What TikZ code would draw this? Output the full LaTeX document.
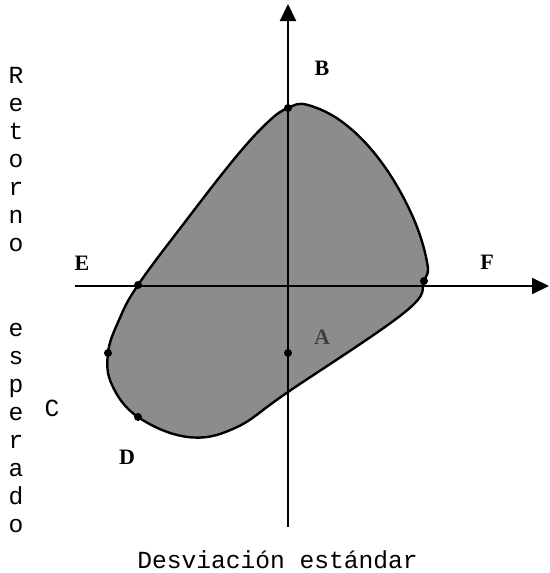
\documentclass[tikz,border=0pt]{standalone}
\usepackage{fontspec}
\setmainfont{Liberation Serif}
\setmonofont{Liberation Mono}
\usetikzlibrary{arrows.meta}

\begin{document}
\begin{tikzpicture}[x=0.5pt, y=-0.5pt,
  axisline/.style={line width=1pt, -{Triangle[length=8.5pt, width=8pt]}},
  dotpt/.style={circle, fill=black, inner sep=0pt, minimum size=4pt},
  lbl/.style={font=\fontsize{11}{13}\selectfont\bfseries},
  mono/.style={font=\ttfamily\fontsize{12.3}{14}\selectfont, anchor=base}]
\useasboundingbox (0,0) rectangle (550,573);

% feasible region
\filldraw[fill=black!45, line width=1.2pt] plot[smooth cycle, tension=0.65] coordinates {
  (288,108) (308,105) (345,124) (382,163) (412,215) (427,262)
  (424,281) (405,312) (288,392) (235,428) (188,437)
  (138,417) (112,385) (108,353) (119,320) (138,285) (185,222)
  (235,158) (268,122)};

% axes
\coordinate (xl) at (75,286);
\coordinate (xr) at (549,286);
\coordinate (yb) at (288,527);
\coordinate (yt) at (288,4);
\draw[axisline] (xl) -- (xr);
\draw[axisline] (yb) -- (yt);

% points on the boundary
\node[dotpt] (pb) at (288,108) {};
\node[dotpt] (pe) at (138,285) {};
\node[dotpt] (pf) at (424,281) {};
\node[dotpt] (pc) at (108,353) {};
\node[dotpt] (pd) at (138,417) {};
\node[dotpt] (pa) at (288,353) {};

% labels
\node[lbl] (lb) at (322,68) {B};
\node[lbl] (le) at (82,263) {E};
\node[lbl] (lf) at (487,262) {F};
\node[lbl] (ld) at (127,457) {D};
\node[lbl, text=black!75] (la) at (322,337) {A};
\node[font=\ttfamily\fontsize{12.3}{14}\selectfont] (lc) at (52,408) {C};

% axis titles
\foreach \ch [count=\i] in {R,e,t,o,r,n,o}
  \node[mono] (ret\i) at (16,{83.5+28*(\i-1)}) {\ch};
\foreach \ch [count=\i] in {e,s,p,e,r,a,d,o}
  \node[mono] (esp\i) at (16,{336.5+28*(\i-1)}) {\ch};
\node[mono] (desv) at (277.5,568) {Desviación estándar};
\end{tikzpicture}
\end{document}
